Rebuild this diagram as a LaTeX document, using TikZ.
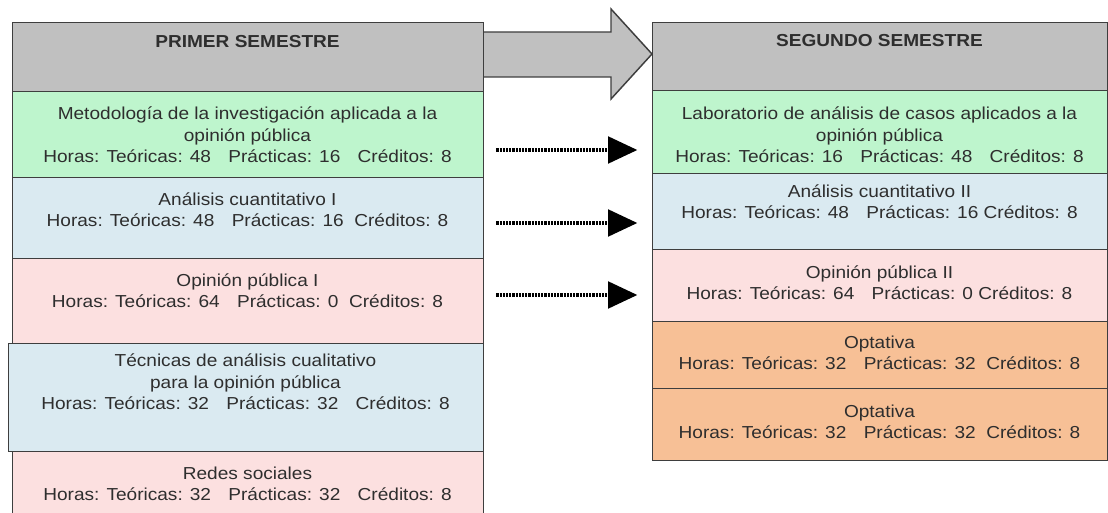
\documentclass[tikz,border=0pt]{standalone}
\usepackage{fontspec}
\setmainfont{Liberation Sans}[FakeStretch=1.1]
\usetikzlibrary{arrows.meta}

\definecolor{hdrgray}{RGB}{192,192,192}
\definecolor{mintgreen}{RGB}{190,245,205}
\definecolor{paleblue}{RGB}{218,234,241}
\definecolor{palepink}{RGB}{252,224,224}
\definecolor{peach}{RGB}{247,192,150}
\definecolor{edge}{RGB}{62,62,62}

\tikzset{
  box/.style={draw=edge, line width=1.1pt, anchor=north west, inner sep=0pt},
  leftbox/.style={box, minimum width=353.25pt},
  rightbox/.style={box, minimum width=341.25pt},
  txt/.style={align=center, inner sep=0pt, anchor=base, text=black!82,
    font=\fontsize{13}{16.2}\selectfont},
  hdrtxt/.style={txt, font=\fontsize{13}{16.2}\selectfont\bfseries},
  dotarrow/.style={line width=2.5pt, dash pattern=on 1.6pt off 0.8pt,
    -{Triangle[length=22pt,width=20pt]}, shorten <=9pt, shorten >=11pt}
}

\begin{document}
\begin{tikzpicture}[x=0.75pt,y=-0.75pt]

\useasboundingbox (0,0) rectangle (1108,513);
\clip (0,0) rectangle (1108,513);

% big arrow between the two headers (drawn first, boxes go over it)
\coordinate (tipL) at (483,54);
\coordinate (tipR) at (652,54);
\draw[draw=edge, line width=1.1pt, fill=hdrgray, line join=miter]
  (tipL |- 0,32) -- (611,32) -- (611,9) -- (tipR) -- (611,99) -- (611,77) -- (tipL |- 0,77);

% first semester
\node[leftbox, fill=hdrgray, minimum height=51.75pt] (h1) at (12,22) {};
\node[leftbox, fill=mintgreen, minimum height=64.5pt] (m1) at (12,91) {};
\node[leftbox, fill=paleblue, minimum height=60.75pt] (m2) at (12,177) {};
\node[leftbox, fill=palepink, minimum height=63.75pt] (m3) at (12,258) {};
\node[box, fill=paleblue, minimum width=356.25pt, minimum height=81pt] (m4) at (8,343) {};
\node[leftbox, fill=palepink, minimum height=60pt] (m5) at (12,451) {};

% second semester
\node[rightbox, fill=hdrgray, minimum height=51pt] (h2) at (652,22) {};
\node[rightbox, fill=mintgreen, minimum height=62.25pt] (l1) at (652,90) {};
\node[rightbox, fill=paleblue, minimum height=57pt] (l2) at (652,173) {};
\node[rightbox, fill=palepink, minimum height=54pt] (l3) at (652,249) {};
\node[rightbox, fill=peach, minimum height=50.25pt] (l4) at (652,321) {};
\node[rightbox, fill=peach, minimum height=54pt] (l5) at (652,388) {};

% texts (placed at the baseline of their last line)
\node[hdrtxt] (h1t) at (247.5,48) {PRIMER SEMESTRE};
\node[txt] (m1t) at (247.5,163) {Metodología de la investigación aplicada a la\\opinión pública\\Horas: Teóricas: 48\quad Prácticas: 16\quad Créditos: 8};
\node[txt] (m2t) at (247.5,227) {Análisis cuantitativo I\\Horas: Teóricas: 48\quad Prácticas: 16~ Créditos: 8};
\node[txt] (m3t) at (247.5,308) {Opinión pública I\\Horas: Teóricas: 64\quad Prácticas: 0~ Créditos: 8};
\node[txt] (m4t) at (245.5,410) {Técnicas de análisis cualitativo\\para la opinión pública\\Horas: Teóricas: 32\quad Prácticas: 32\quad Créditos: 8};
\node[txt] (m5t) at (247.5,501) {Redes sociales\\Horas: Teóricas: 32\quad Prácticas: 32\quad Créditos: 8};

\node[hdrtxt] (h2t) at (879.5,47) {SEGUNDO SEMESTRE};
\node[txt] (l1t) at (879.5,163) {Laboratorio de análisis de casos aplicados a la\\opinión pública\\Horas: Teóricas: 16\quad Prácticas: 48\quad Créditos: 8};
\node[txt] (l2t) at (879.5,219) {Análisis cuantitativo II\\Horas: Teóricas: 48\quad Prácticas: 16 Créditos: 8};
\node[txt] (l3t) at (879.5,300) {Opinión pública II\\Horas: Teóricas: 64\quad Prácticas: 0 Créditos: 8};
\node[txt] (l4t) at (879.5,370) {Optativa\\Horas: Teóricas: 32\quad Prácticas: 32~ Créditos: 8};
\node[txt] (l5t) at (879.5,439) {Optativa\\Horas: Teóricas: 32\quad Prácticas: 32~ Créditos: 8};

% dotted arrows
\draw[dotarrow] (m1.east |- 0,150) -- (l1.west |- 0,150);
\draw[dotarrow] (m2.east |- 0,223) -- (l2.west |- 0,223);
\draw[dotarrow] (m3.east |- 0,295) -- (l3.west |- 0,295);

\end{tikzpicture}
\end{document}
